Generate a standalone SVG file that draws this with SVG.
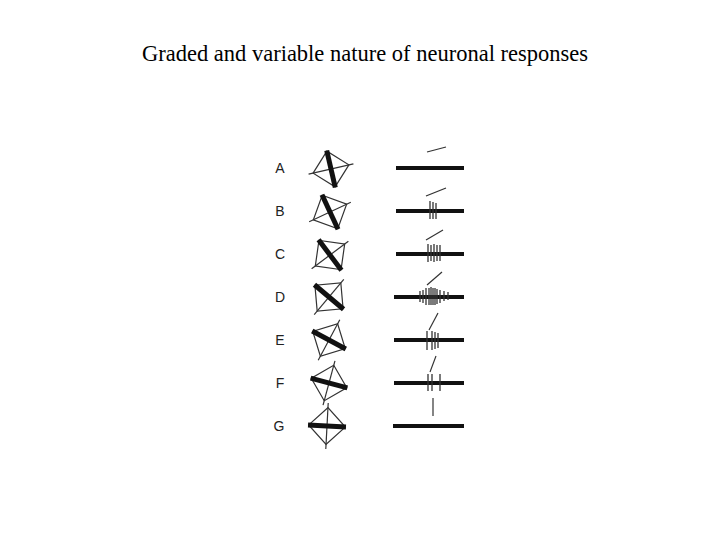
<svg xmlns="http://www.w3.org/2000/svg" width="720" height="540" viewBox="0 0 720 540">
<style>
.t{font-family:"Liberation Serif",serif;font-size:22.5px;fill:#000}
.l{font-family:"Liberation Sans",sans-serif;font-size:14px;fill:#222}
.bar{stroke:#111;stroke-width:5;stroke-linecap:butt}
.thin{stroke:#333;stroke-width:1.2;fill:none}
.base{stroke:#111;stroke-width:4}
.sp{stroke:#333;stroke-width:1.3}
</style>
<rect width="720" height="540" fill="#fff"/>
<text class="t" x="365" y="61" text-anchor="middle">Graded and variable nature of neuronal responses</text>
<defs>
<g id="icon"><rect class="thin" x="-13" y="-13" width="26" height="26" transform="rotate(45)"/><line class="thin" x1="0" y1="-23" x2="0" y2="23"/><line class="bar" x1="-19" y1="0" x2="19" y2="0"/></g>
</defs>
<g id="labels">
<text class="l" x="280" y="173" text-anchor="middle">A</text>
<text class="l" x="280" y="216" text-anchor="middle">B</text>
<text class="l" x="280" y="259" text-anchor="middle">C</text>
<text class="l" x="280" y="302" text-anchor="middle">D</text>
<text class="l" x="280" y="345" text-anchor="middle">E</text>
<text class="l" x="280" y="388" text-anchor="middle">F</text>
<text class="l" x="279" y="431" text-anchor="middle">G</text>
</g>
<g id="stimuli">
<use href="#icon" transform="translate(331,169) rotate(77)"/>
<use href="#icon" transform="translate(330,212) rotate(65)"/>
<use href="#icon" transform="translate(330,255) rotate(53)"/>
<use href="#icon" transform="translate(329,297) rotate(40)"/>
<use href="#icon" transform="translate(329,340) rotate(28)"/>
<use href="#icon" transform="translate(329,383) rotate(15)"/>
<use href="#icon" transform="translate(327,426) rotate(3)"/>
</g>
<g id="responses">
<line class="base" x1="396" y1="168" x2="464" y2="168"/>
<line class="thin" x1="427" y1="152" x2="446" y2="147"/>
<line class="base" x1="396" y1="211" x2="464" y2="211"/>
<line class="thin" x1="426" y1="196" x2="446" y2="188"/>
<path class="sp" d="M430 201v18M433 202v17M436 203v16"/>
<line class="base" x1="396" y1="254" x2="464" y2="254"/>
<line class="thin" x1="426" y1="240" x2="443" y2="230"/>
<path class="sp" d="M428 244v18M431 245v16M434 244v18M437 245v16M440 245v16"/>
<line class="base" x1="394" y1="297" x2="464" y2="297"/>
<line class="thin" x1="427" y1="285" x2="442" y2="272"/>
<path class="sp" d="M420 291v11M423 290v13M426 288v17M429 288v17M431 287v18M433 288v17M435 288v17M437 289v15M440 290v13M444 291v10M448 292v8"/>
<line class="base" x1="394" y1="340" x2="464" y2="340"/>
<line class="thin" x1="429" y1="330" x2="438" y2="313"/>
<path class="sp" d="M427 331v19M432 331v19M435 332v17M438 333v15"/>
<line class="base" x1="394" y1="383" x2="464" y2="383"/>
<line class="thin" x1="430" y1="372" x2="436" y2="356"/>
<path class="sp" d="M428 374v17M432 374v17M440 374v17"/>
<line class="base" x1="393" y1="426" x2="464" y2="426"/>
<line class="thin" x1="433" y1="398" x2="433" y2="416"/>
</g>
</svg>
